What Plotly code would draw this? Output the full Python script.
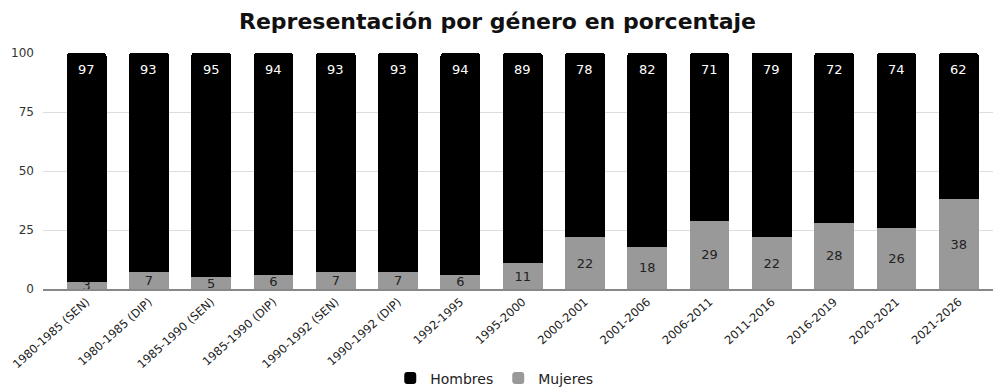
import plotly.graph_objects as go

periodos = [
    "1980-1985 (SEN)", "1980-1985 (DIP)", "1985-1990 (SEN)", "1985-1990 (DIP)",
    "1990-1992 (SEN)", "1990-1992 (DIP)", "1992-1995", "1995-2000",
    "2000-2001", "2001-2006", "2006-2011", "2011-2016",
    "2016-2019", "2020-2021", "2021-2026",
]
hombres = [97, 93, 95, 94, 93, 93, 94, 89, 78, 82, 71, 79, 72, 74, 62]
mujeres = [3, 7, 5, 6, 7, 7, 6, 11, 22, 18, 29, 22, 28, 26, 38]
y_ticks = [0, 25, 50, 75, 100]
Y_MAX = 100

FONT = "DejaVu Sans, Verdana, sans-serif"

fig = go.Figure()
fig.add_trace(go.Bar(
    name="Mujeres", x=periodos, y=mujeres,
    marker=dict(color="#999999", line=dict(width=0)),
    text=[str(v) for v in mujeres], textposition="inside",
    insidetextanchor="middle", textangle=0,
    textfont=dict(family=FONT, size=13, color="#222222"),
    cliponaxis=False,
))
fig.add_trace(go.Bar(
    name="Hombres", x=periodos, y=hombres,
    marker=dict(color="#000000", line=dict(width=0)),
))

# men's value labels sit near the top of each stack (kept inside the axis range)
for p, h, m in zip(periodos, hombres, mujeres):
    fig.add_annotation(
        x=p, y=min(h + m, Y_MAX), text=str(h), showarrow=False,
        yanchor="top", yshift=-7,
        font=dict(family=FONT, size=13, color="#ffffff"),
    )

fig.update_layout(
    barmode="stack",
    bargap=0.36,
    barcornerradius=3,
    width=995, height=387,
    margin=dict(l=43, r=2, t=53, b=98),
    paper_bgcolor="white", plot_bgcolor="white",
    font=dict(family=FONT, size=12, color="#333333"),
    title=dict(
        text="<b>Representación por género en porcentaje</b>",
        x=0.5, xanchor="center", y=0.945, yanchor="middle",
        font=dict(family=FONT, size=22, color="#111111"),
    ),
    legend=dict(
        orientation="h", x=0.475, xanchor="center",
        yref="container", y=0.022, yanchor="middle",
        traceorder="reversed",
        font=dict(family=FONT, size=14, color="#222222"),
        itemsizing="constant",
    ),
    uniformtext=dict(minsize=13, mode="show"),
    showlegend=True,
)
fig.update_xaxes(
    type="category", range=[-0.70, 14.55],
    tickangle=-42, tickfont=dict(family=FONT, size=11.5, color="#222222"),
    showgrid=False, showline=True, linecolor="#888888", linewidth=1.5,
    ticks="", automargin=False,
)
fig.update_yaxes(
    range=[0, Y_MAX], tickvals=y_ticks,
    tickfont=dict(family=FONT, size=12, color="#333333"),
    showgrid=True, gridcolor="#dddddd", gridwidth=1,
    zeroline=False, ticks="", ticklabelstandoff=8, automargin=False,
)

fig.write_html("out.html")
